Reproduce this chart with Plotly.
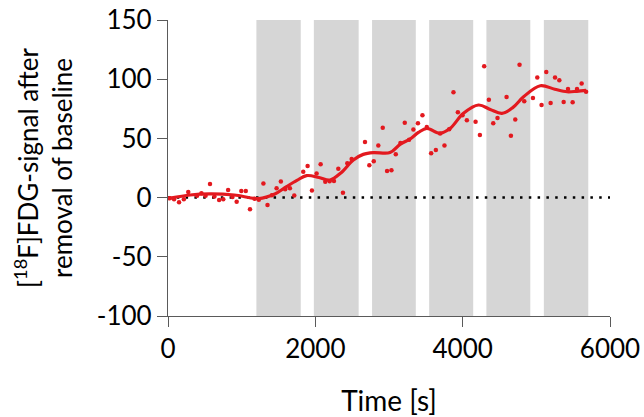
import plotly.graph_objects as go

# Measured points (time in s, signal)
time_pts = [23, 82, 150, 215, 275, 395, 454, 510, 570, 630, 694, 750, 816, 875, 932, 995, 1056, 1113,
            1175, 1233, 1295, 1351, 1410, 1474, 1532, 1591, 1655, 1714, 1836, 1895, 1954, 2017, 2072,
            2135, 2194, 2253, 2312, 2375, 2434, 2493, 2674, 2733, 2793, 2855, 2915, 2974, 3033, 3092,
            3155, 3214, 3273, 3331, 3393, 3454, 3513, 3572, 3636, 3694, 3753, 3817, 3875, 3935, 3998,
            4057, 4175, 4234, 4292, 4356, 4415, 4473, 4596, 4655, 4714, 4772, 4836, 4954, 5013, 5071,
            5135, 5194, 5254, 5312, 5371, 5430, 5493, 5552, 5615, 5675]
signal_pts = [-0.5, -1.4, -3.9, -1.4, 4.8, 1.5, 3.7, 1.5, 11.4, 1.0, -2.0, -1.4, 6.5, 0.5, -3.6, 5.6, 5.6, -9.8,
              -1.0, -1.8, 11.9, -6.2, 2.0, 7.9, 13.5, 7.1, 7.9, 1.7, 21.9, 26.7, 6.0, 20.4, 28.1,
              13.4, 13.9, 14.0, 24.3, 4.0, 29.0, 32.5, 47.0, 27.4, 30.8, 44.0, 58.9, 22.5, 23.2, 36.6,
              46.2, 63.3, 48.8, 57.6, 62.8, 69.5, 59.7, 37.4, 40.1, 54.1, 44.0, 57.8, 88.9, 72.0, 69.6,
              65.4, 64.1, 52.8, 111.0, 82.6, 62.7, 67.2, 84.9, 52.3, 66.0, 112.1, 81.4, 84.1, 101.4, 78.3,
              106.0, 79.8, 101.5, 99.2, 80.8, 91.7, 80.5, 91.7, 96.3, 89.4]

# Smoothed fit curve
fit_time = [30, 300, 570, 900, 1230, 1450, 1610, 1750, 1881, 2050, 2199, 2350, 2516, 2650, 2788, 3014,
            3150, 3286, 3400, 3513, 3694, 3830, 4011, 4215, 4374, 4533, 4680, 4827, 5054, 5250, 5417,
            5550, 5675]
fit_signal = [-0.5, 2.2, 3.1, 2.2, -0.8, 3.0, 9.3, 14.5, 18.6, 17.0, 14.9, 21.0, 31.8, 36.5, 38.0, 38.0,
              45.0, 49.5, 55.0, 58.5, 54.3, 58.5, 71.2, 78.2, 74.5, 71.2, 76.0, 85.2, 94.5, 91.5, 89.4,
              89.8, 90.5]

# Stimulation periods (start, end) in s
band_start = [1200, 1980, 2770, 3545, 4322, 5102]
band_end = [1802, 2588, 3364, 4143, 4918, 5705]

x_ticks = [0, 2000, 4000, 6000]
x_ticktext = ["0", "2000", "4000", "6000"]
y_ticks = [-100, -50, 0, 50, 100, 150]
y_ticktext = ["-100", "-50", "0", "50", "100", "150"]

red = "#e3191f"
axis_col = "#5a5a5a"
font_family = "Lato, 'Noto Sans', sans-serif"

fig = go.Figure()

for s, e in zip(band_start, band_end):
    fig.add_shape(type="rect", xref="x", yref="y", x0=s, x1=e, y0=-100, y1=150,
                  fillcolor="#d6d6d6", line_width=0, layer="below")

fig.add_trace(go.Scatter(x=[0, 6000], y=[0, 0], mode="lines",
                         line=dict(color="black", width=2.5, dash="2.5px,6.3px"),
                         hoverinfo="skip", showlegend=False))
fig.add_trace(go.Scatter(x=time_pts, y=signal_pts, mode="markers",
                         marker=dict(color=red, size=4.5), showlegend=False))
fig.add_trace(go.Scatter(x=fit_time, y=fit_signal, mode="lines",
                         line=dict(color=red, width=3.2, shape="spline", smoothing=1.0),
                         showlegend=False))

fig.update_layout(
    width=644, height=417,
    margin=dict(l=168, r=34, t=20, b=101),
    paper_bgcolor="white", plot_bgcolor="white",
    font=dict(family=font_family, color="black"),
    showlegend=False,
)
fig.update_xaxes(range=[0, 6000], tickvals=x_ticks, ticktext=x_ticktext, ticks="outside", ticklen=10,
                 tickwidth=1.3, tickcolor=axis_col, showline=True, linecolor=axis_col, linewidth=1.3,
                 showgrid=False, zeroline=False, tickfont=dict(size=26), automargin=False,
                 title=dict(text="Time [s]", font=dict(size=28), standoff=28))
fig.update_yaxes(range=[-100, 150], tickvals=y_ticks, ticktext=y_ticktext, ticks="outside", ticklen=10,
                 tickwidth=1.3, tickcolor=axis_col, showline=True, linecolor=axis_col, linewidth=1.3,
                 showgrid=False, zeroline=False, tickfont=dict(size=26), automargin=False,
                 title=dict(text="[<sup>18</sup>F]FDG-signal after<br>removal of baseline",
                            font=dict(size=26), standoff=16))

fig.write_html("out.html")
